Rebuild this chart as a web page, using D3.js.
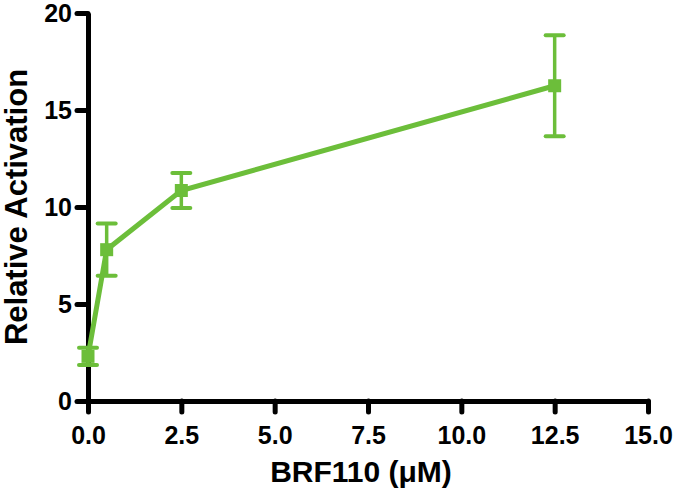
<!DOCTYPE html>
<html>
<head>
<meta charset="utf-8">
<script src="https://cdn.jsdelivr.net/npm/d3@7"></script>
<style>
  body { margin: 0; background: #fff; }
  text { font-family: "Liberation Sans", Arial, sans-serif; font-weight: bold; }
</style>
</head>
<body>
<div id="chart"></div>
<script>
// data
const concentrations = [0, 0.5, 2.5, 12.5]
const activation = [2.3, 7.8, 10.85, 16.25]
const errors = [0.45, 1.35, 0.9, 2.6]
const xTicks = [0, 2.5, 5, 7.5, 10, 12.5, 15]
const yTicks = [0, 5, 10, 15, 20]

const width = 677
const height = 499
const green = "#6cbe3a"

const xScale = d3.scaleLinear().domain([0, 15]).range([88, 648])
const yScale = d3.scaleLinear().domain([0, 20]).range([401, 13])

const svg = d3.select("#chart")
    .append("svg")
    .attr("width", width)
    .attr("height", height)

// axes
const xAxis = d3.axisBottom(xScale)
    .tickValues(xTicks)
    .tickFormat(d3.format(".1f"))
    .tickSize(11)
    .tickSizeOuter(0)
    .tickPadding(14)

const yAxis = d3.axisLeft(yScale)
    .tickValues(yTicks)
    .tickSize(11)
    .tickSizeOuter(0)
    .tickPadding(5)

const gx = svg.append("g")
    .attr("transform", "translate(0," + 401 + ")")
    .call(xAxis)

const gy = svg.append("g")
    .attr("transform", "translate(" + 88 + ",0)")
    .call(yAxis)

for (const g of [gx, gy]) {
    g.select(".domain").attr("stroke", "#000").attr("stroke-width", 5)
    g.selectAll(".tick line").attr("stroke", "#000").attr("stroke-width", 5).attr("stroke-linecap", "round")
    g.selectAll(".tick text").attr("fill", "#000").attr("font-size", 25)
        .style("font-family", "'Liberation Sans', Arial, sans-serif").style("font-weight", "bold")
}
gy.selectAll(".tick text").attr("dy", "0.34em")

// axis titles
svg.append("text")
    .text("BRF110 (\u03bcM)")
    .attr("x", 361)
    .attr("y", 482)
    .attr("text-anchor", "middle")
    .attr("font-size", 30)

svg.append("text")
    .text("Relative Activation")
    .attr("transform", "translate(27,207) rotate(-90)")
    .attr("text-anchor", "middle")
    .attr("font-size", 31)

// data
const data = concentrations.map((c, i) => ({ x: c, y: activation[i], e: errors[i] }))

const line = d3.line()
    .x(d => xScale(d.x))
    .y(d => yScale(d.y))

svg.append("path")
    .datum(data)
    .attr("d", line)
    .attr("fill", "none")
    .attr("stroke", green)
    .attr("stroke-width", 5)

const bars = svg.append("g").selectAll("g")
    .data(data)
    .join("g")

bars.append("line")
    .attr("x1", d => xScale(d.x))
    .attr("x2", d => xScale(d.x))
    .attr("y1", d => yScale(d.y - d.e))
    .attr("y2", d => yScale(d.y + d.e))
    .attr("stroke", green)
    .attr("stroke-width", 3.5)

for (const sign of [-1, 1]) {
    bars.append("line")
        .attr("x1", d => xScale(d.x) - 9)
        .attr("x2", d => xScale(d.x) + 9)
        .attr("y1", d => yScale(d.y + sign * d.e))
        .attr("y2", d => yScale(d.y + sign * d.e))
        .attr("stroke", green)
        .attr("stroke-width", 4)
        .attr("stroke-linecap", "round")
}

bars.append("rect")
    .attr("x", d => xScale(d.x) - 6.5)
    .attr("y", d => yScale(d.y) - 6.5)
    .attr("width", 13)
    .attr("height", 13)
    .attr("fill", green)
</script>
</body>
</html>
